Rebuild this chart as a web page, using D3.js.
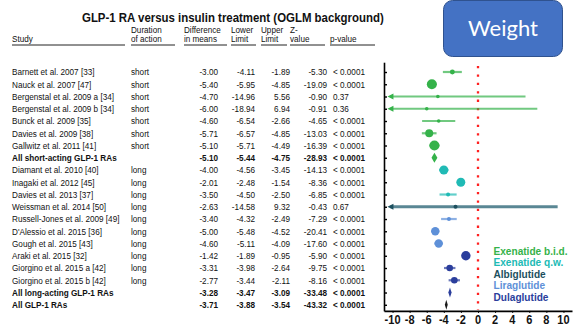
<!DOCTYPE html>
<html><head><meta charset="utf-8">
<script src="https://cdn.jsdelivr.net/npm/d3@7"></script>
<style>body{margin:0;background:#fff;} svg{display:block;}</style>
</head><body><svg id="c" width="579" height="327"></svg>
<script>
// ---------- data ----------
const studies = ["Barnett et al. 2007 [33]","Nauck et al. 2007 [47]","Bergenstal et al. 2009 a [34]","Bergenstal et al. 2009 b [34]","Bunck et al. 2009 [35]","Davies et al. 2009 [38]","Gallwitz et al. 2011 [41]","All short-acting GLP-1 RAs","Diamant et al. 2010 [40]","Inagaki et al. 2012 [45]","Davies et al. 2013 [37]","Weissman et al. 2014 [50]","Russell-Jones et al. 2009 [49]","D'Alessio et al. 2015 [36]","Gough et al. 2015 [43]","Araki et al. 2015 [32]","Giorgino et al. 2015 a [42]","Giorgino et al. 2015 b [42]","All long-acting GLP-1 RAs","All GLP-1 RAs"];
const duration = ["short","short","short","short","short","short","short","","long","long","long","long","long","long","long","long","long","long","",""];
const diffMeans = [-3.00,-5.40,-4.70,-6.00,-4.60,-5.71,-5.10,-5.10,-4.00,-2.01,-3.50,-2.63,-3.40,-5.00,-4.60,-1.42,-3.31,-2.77,-3.28,-3.71];
const lowerLimit = [-4.11,-5.95,-14.96,-18.94,-6.54,-6.57,-5.71,-5.44,-4.56,-2.48,-4.50,-14.58,-4.32,-5.48,-5.11,-1.89,-3.98,-3.44,-3.47,-3.88];
const upperLimit = [-1.89,-4.85,5.56,6.94,-2.66,-4.85,-4.49,-4.75,-3.45,-1.54,-2.50,9.32,-2.49,-4.52,-4.09,-0.95,-2.64,-2.11,-3.09,-3.54];
const zValue = [-5.30,-19.09,-0.90,-0.91,-4.65,-13.03,-16.39,-28.93,-14.13,-8.36,-6.85,-0.43,-7.29,-20.41,-17.60,-5.90,-9.75,-8.16,-33.48,-43.32];
const pValue = ["< 0.0001","< 0.0001","0.37","0.36","< 0.0001","< 0.0001","< 0.0001","< 0.0001","< 0.0001","< 0.0001","< 0.0001","0.67","< 0.0001","< 0.0001","< 0.0001","< 0.0001","< 0.0001","< 0.0001","< 0.0001","< 0.0001"];
const drug = ["bid","bid","bid","bid","bid","bid","bid","bid","qw","qw","qw","albi","lira","lira","lira","dula","dula","dula","dula","all"];
const isSummary = [0,0,0,0,0,0,0,1,0,0,0,0,0,0,0,0,0,0,1,1];
const studyWeight = [6,25,3,3,3.2,16,25,0,20,20,4,4,4,17.5,17.5,22,11,11,0,0];
const legendLabels = ["Exenatide b.i.d.","Exenatide q.w.","Albiglutide","Liraglutide","Dulaglutide"];
const legendKeys = ["bid","qw","albi","lira","dula"];
const xTicks = [-10,-8,-6,-4,-2,0,2,4,6,8,10];
const headerLines = [["Study"],["Duration","of action"],["Difference","in means"],["Lower","Limit"],["Upper","Limit"],["Z-","value"],["p-value"]];
const titleText = "GLP-1 RA versus insulin treatment (OGLM background)";
const boxText = "Weight";

// ---------- styles ----------
const colors = {bid:"#35b24a", qw:"#20bab5", albi:"#1c4f5e", lira:"#5e90d8", dula:"#2b3e9c", all:"#1a1a1a"};
const FONT = "'Liberation Sans', Arial, sans-serif";
const SX = 0.86;
const fmt = v => v.toFixed(2);

const svg = d3.select("#c");
svg.append("rect").attr("width",579).attr("height",327).attr("fill","#fff");

const rows = d3.range(studies.length);
const y = d3.scaleLinear().domain([-0.8, 19.5]).range([62.2, 310.9]);
const x = d3.scaleLinear().domain([-11, 11]).range([384, 572]);
const rScale = d3.scaleSqrt().domain([0, 25]).range([0, 5]);

function txt(g, s, px, py, opts) {
  opts = opts || {};
  return g.append("text")
    .attr("transform", `translate(${px},${py}) scale(${opts.sx||SX},1)`)
    .attr("text-anchor", opts.anchor || "start")
    .attr("font-family", opts.family || FONT)
    .attr("font-size", opts.size || 9.5)
    .attr("font-weight", opts.bold ? "bold" : "normal")
    .attr("fill", opts.fill || "#111")
    .text(s);
}

// ---------- title ----------
txt(svg, titleText, 82, 21.5, {size:12.5, bold:true, sx:0.915});

// ---------- header ----------
const colLeft = [12,131,184,231,261,290,330];
const colUnder = [[12,125],[131,175],[184,227],[231,256],[261,287],[290,325],[330,375]];
const hdr = svg.append("g");
headerLines.forEach((lines,i) => {
  lines.forEach((l,j) => {
    const by = lines.length === 1 ? 42.2 : (j === 0 ? 32.8 : 42.2);
    txt(hdr, l, colLeft[i], by, {size:8.3, sx:0.98});
  });
  hdr.append("line").attr("x1",colUnder[i][0]).attr("x2",colUnder[i][1])
    .attr("y1",45).attr("y2",45).attr("stroke","#222").attr("stroke-width",1);
});

// ---------- table rows ----------
const numRight = [218,255,290,327];
const tbl = svg.append("g");
rows.forEach(i => {
  const by = y(i) + 3.4;
  const b = !!isSummary[i];
  txt(tbl, studies[i], 12, by, {bold:b});
  if (duration[i]) txt(tbl, duration[i], 131, by, {});
  [diffMeans[i], lowerLimit[i], upperLimit[i], zValue[i]].forEach((v,k) => {
    txt(tbl, fmt(v), numRight[k], by, {anchor:"end", bold:b});
  });
  txt(tbl, pValue[i], 333, by, {bold:b});
});

// ---------- forest plot ----------
const plot = svg.append("g");
plot.append("line").attr("x1",x(0)).attr("x2",x(0)).attr("y1",66).attr("y2",310)
  .attr("stroke","#ff2020").attr("stroke-width",2.3).attr("stroke-dasharray","2.3,6.1");

const clipMin = x.domain()[0] + 0.4;
rows.forEach(i => {
  const c = colors[drug[i]];
  const cy = y(i);
  if (isSummary[i]) {
    const h = 5;
    plot.append("polygon")
      .attr("points", [[x(lowerLimit[i]),cy],[x(diffMeans[i]),cy-h],[x(upperLimit[i]),cy],[x(diffMeans[i]),cy+h]].map(p=>p.join(",")).join(" "))
      .attr("fill", c);
    return;
  }
  const lo = Math.max(lowerLimit[i], clipMin);
  const wide = drug[i] === "albi";
  plot.append("line").attr("x1",x(lo)+(lowerLimit[i] < clipMin ? 3 : 0)).attr("x2",x(upperLimit[i]))
    .attr("y1",cy).attr("y2",cy)
    .attr("stroke", wide ? "#5a8794" : c).attr("stroke-opacity", wide ? 1 : 0.7)
    .attr("stroke-width", wide ? 3 : 2.2);
  if (lowerLimit[i] < clipMin) {
    const tx = x(clipMin);
    plot.append("polygon")
      .attr("points", `${tx},${cy} ${tx+6},${cy-3} ${tx+6},${cy+3}`)
      .attr("fill", c);
  }
  plot.append("circle").attr("cx", x(diffMeans[i])).attr("cy", cy)
    .attr("r", Math.max(1.8, rScale(studyWeight[i]))).attr("fill", c);
});

// axes
const yAxis = d3.axisLeft(y).tickValues(rows).tickFormat("").tickSizeInner(-3).tickSizeOuter(0);
const gy = svg.append("g").attr("transform",`translate(${x.range()[0]},0)`).call(yAxis);
gy.select(".domain").attr("stroke","#000").attr("stroke-width",1.6);
gy.selectAll(".tick line").attr("stroke","#000").attr("stroke-width",1.4);

const xAxis = d3.axisBottom(x).tickValues(xTicks).tickFormat("").tickSizeInner(2).tickSizeOuter(0);
const gx = svg.append("g").attr("transform",`translate(0,${y.range()[1]})`).call(xAxis);
gx.select(".domain").attr("stroke","#000").attr("stroke-width",1.6);
gx.selectAll(".tick line").attr("stroke","#000");
xTicks.forEach(t => {
  txt(gx, String(t), x(t), 13, {anchor:"middle", size:12.5, bold:true, sx:0.88, fill:"#111"});
});

// legend
const lg = svg.append("g");
legendKeys.forEach((k,i) => {
  txt(lg, legendLabels[i], 493.5, 254.5 + i*11.65, {size:11, bold:true, sx:0.92, fill:colors[k]});
});

// Weight box
svg.append("rect").attr("x",443.5).attr("y",0.5).attr("width",119).attr("height",56)
  .attr("rx",9).attr("fill","#4472c4").attr("stroke","#2f528f").attr("stroke-width",1);
svg.append("text").attr("x",503).attr("y",36).attr("text-anchor","middle")
  .attr("font-family","Lato, 'Open Sans', sans-serif").attr("font-size",22)
  .attr("fill","#fff").text(boxText);
</script></body></html>
